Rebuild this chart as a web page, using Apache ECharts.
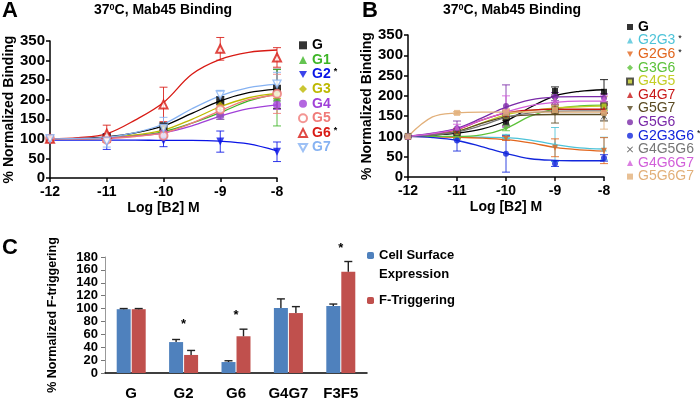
<!DOCTYPE html>
<html><head><meta charset="utf-8">
<script src="https://cdn.jsdelivr.net/npm/echarts@6/dist/echarts.min.js"></script>
<style>html,body{margin:0;padding:0;background:#fff}#c{width:700px;height:401px}</style>
</head><body><div id="c"></div>
<script>
// ---------- DATA ----------
const xTicks = [-12, -11, -10, -9, -8];
const fitX = [-12, -11.5, -11, -10.5, -10, -9.5, -9, -8.5, -8];

// Panel A
const aNames = ['G', 'G1', 'G2', 'G3', 'G4', 'G5', 'G6', 'G7'];
const aStars = ['G2', 'G6'];
const aMeans = [
  [100, 104, 131, 198, 228],
  [100, 102, 115, 165, 205],
  [100, 93, 95, 93, 67],
  [100, 101, 120, 185, 215],
  [100, 100, 115, 160, 187],
  [100, 98, 108, 175, 215],
  [100, 113, 188, 330, 308],
  [100, 94, 127, 212, 240]
];
const aErrs = [
  [3, 6, 10, 10, 50],
  [3, 5, 10, 15, 72],
  [3, 20, 15, 27, 25],
  [3, 5, 10, 10, 12],
  [3, 8, 10, 10, 12],
  [3, 6, 12, 12, 50],
  [3, 22, 44, 29, 25],
  [3, 15, 28, 12, 30]
];
const aFits = [
  [100, 101, 105, 115, 133, 165, 197, 218, 227],
  [100, 100, 102, 108, 118, 140, 167, 197, 215],
  [97, 97, 97, 97, 96, 96, 94, 87, 69],
  [100, 100, 102, 110, 122, 150, 182, 205, 216],
  [100, 100, 102, 107, 115, 133, 158, 177, 187],
  [100, 100, 101, 106, 115, 140, 172, 200, 212],
  [100, 103, 113, 148, 193, 265, 303, 321, 327],
  [100, 101, 104, 116, 138, 177, 210, 231, 240]
];

// Panel B
const bNames = ['G', 'G2G3', 'G2G6', 'G3G6', 'G4G5', 'G4G7', 'G5G7', 'G5G6', 'G2G3G6', 'G4G5G6', 'G4G6G7', 'G5G6G7'];
const bStars = ['G2G3', 'G2G6', 'G2G3G6'];
const bMeans = [
  [100, 108, 136, 212, 210],
  [100, 100, 100, 80, 70],
  [100, 98, 95, 72, 65],
  [100, 100, 122, 165, 175],
  [100, 110, 150, 165, 175],
  [100, 115, 155, 168, 167],
  [100, 112, 150, 158, 148],
  [100, 120, 175, 198, 195],
  [100, 90, 57, 33, 47],
  [100, 110, 150, 188, 150],
  [100, 122, 162, 190, 192],
  [100, 158, 158, 165, 158]
];
const bErrs = [
  [2, 5, 10, 10, 30],
  [2, 5, 5, 42, 28],
  [2, 5, 5, 22, 32],
  [2, 5, 8, 10, 10],
  [2, 5, 10, 10, 10],
  [2, 5, 10, 10, 10],
  [2, 5, 10, 25, 10],
  [2, 18, 52, 10, 10],
  [2, 26, 45, 7, 8],
  [2, 5, 10, 10, 10],
  [2, 8, 38, 10, 10],
  [2, 3, 10, 10, 40]
];
const bFits = [
  [100, 103, 108, 118, 138, 172, 200, 211, 215],
  [100, 100, 99, 98, 97, 91, 80, 72, 69],
  [100, 99, 98, 96, 92, 84, 73, 67, 64],
  [100, 100, 100, 104, 120, 150, 168, 175, 177],
  [100, 104, 113, 133, 153, 164, 170, 173, 175],
  [100, 106, 117, 140, 158, 165, 167, 167, 167],
  [100, 104, 112, 132, 148, 153, 154, 154, 154],
  [100, 108, 120, 145, 172, 190, 197, 198, 198],
  [100, 97, 90, 75, 58, 45, 41, 40, 40],
  [100, 104, 111, 127, 147, 158, 162, 163, 163],
  [100, 107, 118, 140, 160, 176, 184, 187, 187],
  [100, 148, 158, 160, 160, 160, 160, 160, 160]
];

// Panel C
const cCats = ['G', 'G2', 'G6', 'G4G7', 'F3F5'];
const cNames = ['Cell Surface Expression', 'F-Triggering'];
const cSurface = [99, 48, 17, 101, 104];
const cSurfaceErr = [1, 4, 2, 14, 3];
const cTrigger = [99, 28, 57, 93, 157];
const cTriggerErr = [1, 7, 11, 10, 16];
const cStarVals = [null, 75, 90, null, 194];

// ---------- STYLES ----------
const FONT = 'Liberation Sans, Arial, sans-serif';
const DOWN = 'path://M0,0L10,0L5,9Z';
const CROSS = 'path://M1,0L5,4L9,0L10,1L6,5L10,9L9,10L5,6L1,10L0,9L4,5L0,1Z';
const aStyle = [
  {symbol: 'rect', color: '#000000'},
  {symbol: 'triangle', color: '#3DB526'},
  {symbol: DOWN, color: '#0A14E6'},
  {symbol: 'diamond', color: '#BDB800'},
  {symbol: 'circle', color: '#A040D8'},
  {symbol: 'emptyCircle', color: '#F07A78'},
  {symbol: 'emptyTriangle', color: '#D81A14'},
  {symbol: DOWN, color: '#86B2F2', empty: true}
];
const bStyle = [
  {symbol: 'rect', color: '#000000'},
  {symbol: 'triangle', color: '#4DC3D8'},
  {symbol: DOWN, color: '#E2661E'},
  {symbol: 'diamond', color: '#5DC23A'},
  {symbol: 'rect', color: '#C4CE26', fill: '#B8C020', border: '#333'},
  {symbol: 'triangle', color: '#C81818'},
  {symbol: DOWN, color: '#5A4A22'},
  {symbol: 'circle', color: '#7A2AA8'},
  {symbol: 'circle', color: '#1226DC'},
  {symbol: CROSS, color: '#777777', fill: '#444'},
  {symbol: 'triangle', color: '#D25FDA'},
  {symbol: 'rect', color: '#E2B07A'}
];
const BLUE = '#4F81BD', RED = '#C0504D';

// ---------- BUILD ----------
function errRender(color, cap) {
  return function (params, api) {
    const x = api.value(0), lo = api.value(1), hi = api.value(2);
    const p1 = api.coord([x, hi]), p2 = api.coord([x, lo]);
    const st = {stroke: color, lineWidth: 1, opacity: 0.85};
    return {type: 'group', children: [
      {type: 'line', shape: {x1: p1[0], y1: p1[1], x2: p2[0], y2: p2[1]}, style: st},
      {type: 'line', shape: {x1: p1[0] - cap, y1: p1[1], x2: p1[0] + cap, y2: p1[1]}, style: st},
      {type: 'line', shape: {x1: p2[0] - cap, y1: p2[1], x2: p2[0] + cap, y2: p2[1]}, style: st}
    ]};
  };
}

const series = [];
function addPanel(names, means, errs, fits, styles, idx, symSize, cap) {
  names.forEach((n, i) => {
    const s = styles[i];
    series.push({
      type: 'line', name: n + ' fit', xAxisIndex: idx, yAxisIndex: idx,
      data: fitX.map((x, j) => [x, fits[i][j]]), smooth: 0.35,
      showSymbol: false, symbol: 'none', lineStyle: {color: s.color, width: 1.3}, z: 2, silent: true
    });
    series.push({
      type: 'custom', name: n + ' err', xAxisIndex: idx, yAxisIndex: idx,
      data: xTicks.map((x, j) => [x, means[i][j] - errs[i][j], means[i][j] + errs[i][j]]),
      renderItem: errRender(s.color, cap), z: 2, silent: true
    });
    const itemStyle = {color: s.fill || s.color};
    if (s.empty) { itemStyle.color = '#fff'; itemStyle.borderColor = s.color; itemStyle.borderWidth = 1.3; }
    if (s.border) { itemStyle.borderColor = s.border; itemStyle.borderWidth = 1; }
    series.push({
      type: 'scatter', name: n, xAxisIndex: idx, yAxisIndex: idx,
      data: xTicks.map((x, j) => [x, means[i][j]]), symbol: s.symbol, symbolSize: symSize,
      itemStyle: itemStyle, z: 3
    });
  });
}
addPanel(aNames, aMeans, aErrs, aFits, aStyle, 0, 8, 4);
addPanel(bNames, bMeans, bErrs, bFits, bStyle, 1, 6, 4);

// Panel C bars
const BAR_W = 14, BAR_GAP = 1;
series.push({type: 'bar', name: cNames[0], xAxisIndex: 2, yAxisIndex: 2, data: cSurface,
  barWidth: BAR_W, barGap: (BAR_GAP / BAR_W * 100) + '%', itemStyle: {color: BLUE}});
series.push({type: 'bar', name: cNames[1], xAxisIndex: 2, yAxisIndex: 2, data: cTrigger,
  barWidth: BAR_W, itemStyle: {color: RED}});
function barErr(vals, errs, sign) {
  return {
    type: 'custom', name: 'err' + sign, xAxisIndex: 2, yAxisIndex: 2, silent: true, z: 3,
    data: vals.map((v, i) => [i, v, v + errs[i]]),
    renderItem: function (params, api) {
      const off = sign * (BAR_W + BAR_GAP) / 2;
      const p1 = api.coord([api.value(0), api.value(1)]);
      const p2 = api.coord([api.value(0), api.value(2)]);
      const x = p1[0] + off;
      const st = {stroke: '#222', lineWidth: 1.4};
      return {type: 'group', children: [
        {type: 'line', shape: {x1: x, y1: p1[1], x2: x, y2: p2[1]}, style: st},
        {type: 'line', shape: {x1: x - 4, y1: p2[1], x2: x + 4, y2: p2[1]}, style: st}
      ]};
    }
  };
}
series.push(barErr(cSurface, cSurfaceErr, -1));
series.push(barErr(cTrigger, cTriggerErr, 1));
series.push({
  type: 'custom', name: 'stars', xAxisIndex: 2, yAxisIndex: 2, silent: true, clip: false, z: 4,
  data: cStarVals.map((v, i) => [i, v]).filter(d => d[1] != null),
  renderItem: function (params, api) {
    const p = api.coord([api.value(0), api.value(1)]);
    return {type: 'text', x: p[0], y: p[1], style: {text: '*', fill: '#000', font: 'bold 13px ' + FONT, align: 'center', verticalAlign: 'middle'}};
  }
});

// ---------- AXES ----------
function valX(idx) {
  return {
    type: 'value', gridIndex: idx, min: -12, max: -8, interval: 1,
    name: 'Log [B2] M', nameLocation: 'middle', nameGap: 23,
    nameTextStyle: {fontSize: 14, fontWeight: 'bold', color: '#000', fontFamily: FONT},
    axisLine: {onZero: false, lineStyle: {color: '#000', width: 1.5}},
    axisTick: {length: 4, lineStyle: {color: '#000', width: 1.5}},
    axisLabel: {fontSize: 14, fontWeight: 'bold', color: '#000', margin: 7, fontFamily: FONT},
    splitLine: {show: false}
  };
}
function valY(idx, gap) {
  return {
    type: 'value', gridIndex: idx, min: 0, max: 350, interval: 50,
    name: '% Normalized Binding', nameLocation: 'middle', nameGap: gap, nameRotate: 90,
    nameTextStyle: {fontSize: 14, fontWeight: 'bold', color: '#000', fontFamily: FONT},
    axisLine: {show: true, lineStyle: {color: '#000', width: 1.5}},
    axisTick: {show: true, length: 4, lineStyle: {color: '#000', width: 1.5}},
    axisLabel: {fontSize: 15, fontWeight: 'bold', color: '#000', margin: 5, fontFamily: FONT},
    splitLine: {show: false}
  };
}

function legendItems(names, styles) {
  return names.map((n, i) => ({name: n, textStyle: {color: styles[i].color}}));
}
function legendFmt(stars, boldFirst) {
  return function (name) {
    const t = (boldFirst && name === 'G') ? '{tb|' + name + '}' : '{t|' + name + '}';
    return stars.indexOf(name) >= 0 ? t + '{s|*}' : t;
  };
}

const option = {
  animation: false,
  backgroundColor: '#fff',
  textStyle: {fontFamily: FONT},
  title: [
    {text: 'A', left: 2, top: 0, padding: 0, textStyle: {fontSize: 22, fontWeight: 'bold', color: '#000', fontFamily: FONT}},
    {text: 'B', left: 362, top: 0, padding: 0, textStyle: {fontSize: 22, fontWeight: 'bold', color: '#000', fontFamily: FONT}},
    {text: 'C', left: 2, top: 237, padding: 0, textStyle: {fontSize: 22, fontWeight: 'bold', color: '#000', fontFamily: FONT}},
    {text: '{n|37}{sup|0}{n|C, Mab45 Binding}', left: 163, textAlign: 'center', top: 3, padding: 0,
      textStyle: {rich: {n: {fontSize: 14, fontWeight: 'bold', color: '#000', fontFamily: FONT},
        sup: {fontSize: 9, fontWeight: 'bold', color: '#000', verticalAlign: 'top', lineHeight: 9, fontFamily: FONT}}}},
    {text: '{n|37}{sup|0}{n|C, Mab45 Binding}', left: 512, textAlign: 'center', top: 3, padding: 0,
      textStyle: {rich: {n: {fontSize: 14, fontWeight: 'bold', color: '#000', fontFamily: FONT},
        sup: {fontSize: 9, fontWeight: 'bold', color: '#000', verticalAlign: 'top', lineHeight: 9, fontFamily: FONT}}}}
  ],
  grid: [
    {left: 50, right: 423, top: 41, bottom: 223},
    {left: 408, right: 96, top: 35, bottom: 224},
    {left: 105, right: 333, top: 257, bottom: 22}
  ],
  xAxis: [
    valX(0), valX(1),
    {type: 'category', gridIndex: 2, data: cCats, boundaryGap: true,
      axisLine: {lineStyle: {color: '#000', width: 1.5}},
      axisTick: {length: 5, lineStyle: {color: '#000', width: 1.5}},
      axisLabel: {fontSize: 15, fontWeight: 'bold', color: '#000', margin: 13, fontFamily: FONT}}
  ],
  yAxis: [
    valY(0, 34), valY(1, 25),
    {type: 'value', gridIndex: 2, min: 0, max: 180, interval: 20,
      name: '% Normalized F-triggering', nameLocation: 'middle', nameGap: 46, nameRotate: 90,
      nameTextStyle: {fontSize: 12.5, fontWeight: 'bold', color: '#000', fontFamily: FONT},
      axisLine: {show: true, lineStyle: {color: '#999', width: 1}},
      axisTick: {show: true, length: 4, lineStyle: {color: '#777', width: 1}},
      axisLabel: {fontSize: 13, lineHeight: 12, fontWeight: 'bold', color: '#000', margin: 7, fontFamily: FONT,
        showMinLabel: true, showMaxLabel: true, hideOverlap: false},
      splitLine: {show: false}}
  ],
  legend: [
    {orient: 'vertical', left: 298, top: 38, padding: 0, itemGap: 0, itemWidth: 8, itemHeight: 8,
      selectedMode: false, data: legendItems(aNames, aStyle), formatter: legendFmt(aStars, false),
      textStyle: {fontSize: 14, lineHeight: 14.6, fontWeight: 'bold', fontFamily: FONT,
        rich: {t: {fontSize: 14, lineHeight: 14.6, fontWeight: 'bold', fontFamily: FONT},
          s: {fontSize: 9, lineHeight: 9, verticalAlign: 'top', color: '#000', padding: [0, 0, 0, 3], fontFamily: FONT}}}},
    {orient: 'vertical', left: 626, top: 20, padding: 0, itemGap: -0.4, itemWidth: 6, itemHeight: 6,
      selectedMode: false, data: legendItems(bNames, bStyle), formatter: legendFmt(bStars, true),
      textStyle: {fontSize: 14, lineHeight: 13.3, fontFamily: FONT,
        rich: {t: {fontSize: 14, lineHeight: 13.3, fontFamily: FONT},
          tb: {fontSize: 14, lineHeight: 13.3, fontWeight: 'bold', fontFamily: FONT},
          s: {fontSize: 9, lineHeight: 9, verticalAlign: 'top', color: '#000', padding: [0, 0, 0, 3], fontFamily: FONT}}}},
    {orient: 'vertical', left: 367, top: 227, padding: 0, itemGap: 7, itemWidth: 7, itemHeight: 7,
      selectedMode: false,
      data: [{name: cNames[0]}, {name: cNames[1]}],
      formatter: function (n) { return n === cNames[0] ? ' \nCell Surface\nExpression' : n; },
      textStyle: {fontSize: 13, lineHeight: 19, fontWeight: 'bold', color: '#000', fontFamily: FONT}}
  ],
  series: series
};
const chart = echarts.init(document.getElementById('c'), null, {renderer: 'canvas'});
chart.setOption(option);
</script></body></html>
